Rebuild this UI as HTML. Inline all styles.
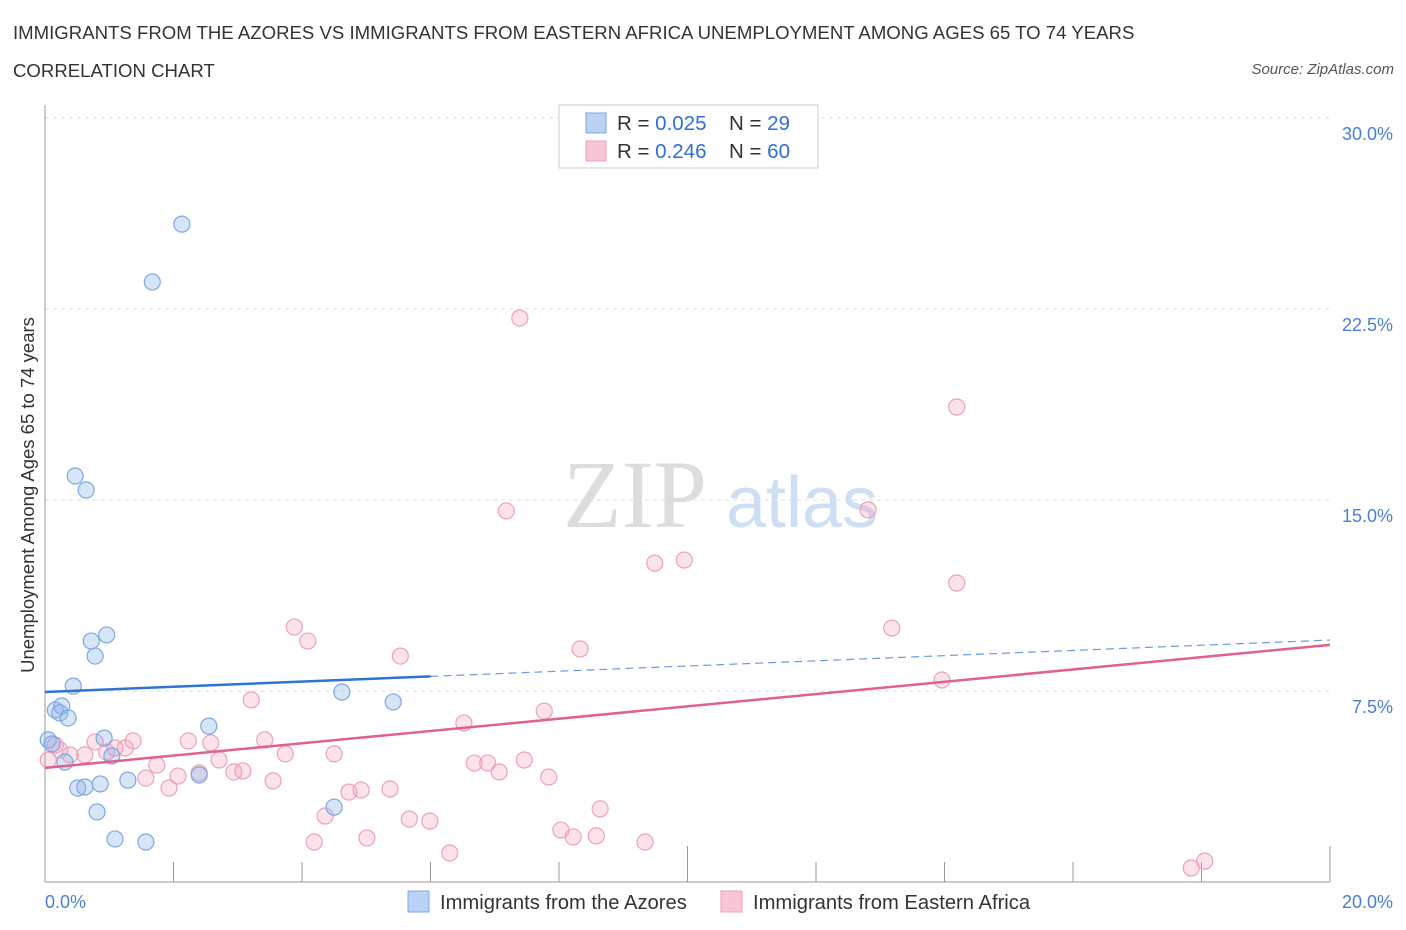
<!DOCTYPE html>
<html><head><meta charset="utf-8">
<style>
body{margin:0;background:#fff;font-family:"Liberation Sans",sans-serif;}
#wrap{position:relative;width:1406px;height:930px;overflow:hidden;}
.t{position:absolute;white-space:nowrap;}
</style></head>
<body>
<div id="wrap">
<div class="t" style="left:13px;top:22px;font-size:18.6px;color:#333;">IMMIGRANTS FROM THE AZORES VS IMMIGRANTS FROM EASTERN AFRICA UNEMPLOYMENT AMONG AGES 65 TO 74 YEARS</div>
<div class="t" style="left:13px;top:60px;font-size:18.6px;color:#333;">CORRELATION CHART</div>
<div class="t" style="right:12px;top:61px;font-size:15px;color:#555;font-style:italic;">Source: ZipAtlas.com</div>
<svg id="chart" width="1406" height="930" style="position:absolute;left:0;top:0"></svg>
</div>
<script>
const blueX=[2.13,1.67,0.47,0.64,0.72,0.96,0.78,0.44,0.16,0.26,0.23,0.36,0.05,0.11,0.92,1.04,0.31,2.55,4.62,5.42,0.51,0.62,0.86,1.29,2.40,0.81,4.50,1.09,1.57];
const blueY=[25.83,23.56,15.94,15.39,9.46,9.70,8.87,7.69,6.75,6.91,6.64,6.44,5.58,5.42,5.65,4.95,4.71,6.12,7.46,7.07,3.69,3.73,3.85,4.00,4.20,2.75,2.94,1.69,1.57];
const pinkX=[7.39,14.19,7.18,12.81,9.49,9.95,14.19,3.88,4.09,13.18,5.53,8.33,13.96,3.21,7.77,6.52,0.16,0.23,0.05,0.39,0.62,0.78,0.96,1.09,1.25,1.37,1.74,1.57,1.93,2.07,2.23,2.40,2.58,2.71,2.94,3.08,3.42,3.55,3.74,4.50,4.36,4.19,4.73,4.92,5.01,5.37,5.67,5.99,6.30,6.68,6.89,7.07,7.46,7.84,8.03,8.22,8.58,8.64,9.34,17.84,18.05];
const pinkY=[22.14,18.65,14.57,14.61,12.52,12.64,11.74,10.01,9.46,9.97,8.87,9.15,7.93,7.15,6.71,6.24,5.38,5.18,4.79,4.99,4.99,5.50,5.10,5.26,5.26,5.54,4.59,4.08,3.69,4.16,5.54,4.28,5.46,4.79,4.32,4.36,5.58,3.97,5.03,5.03,2.59,1.57,3.53,3.61,1.73,3.65,2.47,2.39,1.14,4.67,4.67,4.32,4.79,4.12,2.04,1.77,1.81,2.87,1.57,0.55,0.82];
const blueTrend=[7.46,9.50];
const pinkTrend=[4.48,9.31];
const blueSolidEnd=6.0;
const yTicks=[7.5,15,22.5,30];
const yTickLabels=["7.5%","15.0%","22.5%","30.0%"];
const xTicks=[0,2,4,6,8,10,12,14,16,18,20];

const X=v=>45+v*64.25, Y=v=>882-v*25.47;
const svg=document.getElementById('chart');const NS='http://www.w3.org/2000/svg';
function mk(tag,a){const e=document.createElementNS(NS,tag);for(const k in a)e.setAttribute(k,a[k]);svg.appendChild(e);return e;}
let e;
yTicks.forEach((t,i)=>{
 e=mk('line',{x1:45,x2:1330,y1:Y(t),y2:Y(t),stroke:'#ddd','stroke-dasharray':'4,4'});
 
 
 e=mk('text',{x:1393,y:Y(t)+22,'text-anchor':'end','font-size':18,fill:'#4a7fd4','font-family':'Liberation Sans'});
 e.textContent=yTickLabels[i];
 
 
});
e=mk('line',{x1:45,x2:45,y1:105,y2:882,stroke:'#999'});


e=mk('line',{x1:45,x2:1330,y1:882,y2:882,stroke:'#999'});


xTicks.forEach(t=>{
 e=mk('line',{x1:X(t),x2:X(t),y1:882,y2:(t%10==0&&t>0)?846:862,stroke:'#999'});
 
 
});
[[0,'0.0%','start',45],[20,'20.0%','end',1393]].forEach(d=>{
 e=mk('text',{x:d[3],y:908,'text-anchor':d[2],'font-size':18,fill:'#4a7fd4','font-family':'Liberation Sans'});
 e.textContent=d[1];
 
 
});
e=mk('text',{x:0,y:0,transform:'translate(34,495) rotate(-90)','text-anchor':'middle','font-size':18.5,fill:'#333','font-family':'Liberation Sans'});
e.textContent='Unemployment Among Ages 65 to 74 years';


e=mk('text',{x:635,y:527,'text-anchor':'middle','font-size':96,fill:'#ddd','font-family':'Liberation Serif'});
e.textContent='ZIP';


e=mk('text',{x:802,y:527,'text-anchor':'middle','font-size':72,fill:'#cfdff3','font-family':'Liberation Sans'});
e.textContent='atlas';


pinkX.forEach((v,i)=>{
 e=mk('circle',{cx:X(v),cy:Y(pinkY[i]),r:8,fill:'rgba(244,160,188,0.3)',stroke:'#eba1ba','stroke-width':1.2});
 
 
});
blueX.forEach((v,i)=>{
 e=mk('circle',{cx:X(v),cy:Y(blueY[i]),r:8,fill:'rgba(140,180,235,0.35)',stroke:'#7ea8e0','stroke-width':1.2});
 
 
});
const bAt=x=>blueTrend[0]+(blueTrend[1]-blueTrend[0])*x/20;
e=mk('line',{x1:X(0),y1:Y(blueTrend[0]),x2:X(blueSolidEnd),y2:Y(bAt(blueSolidEnd)),stroke:'#2f74d0','stroke-width':2.5});


e=mk('line',{x1:X(blueSolidEnd),y1:Y(bAt(blueSolidEnd)),x2:X(20),y2:Y(blueTrend[1]),stroke:'#6a9be0','stroke-width':1.2,'stroke-dasharray':'8,5'});


e=mk('line',{x1:X(0),y1:Y(pinkTrend[0]),x2:X(20),y2:Y(pinkTrend[1]),stroke:'#e0608e','stroke-width':2.5});


e=mk('rect',{x:559,y:105,width:259,height:63,fill:'#fff',stroke:'#ccc'});


[[123,'0.025','29','rgba(140,180,235,0.6)','#7ea8e0'],[151,'0.246','60','rgba(244,160,188,0.6)','#eba1ba']].forEach(r=>{
 e=mk('rect',{x:586,y:r[0]-10,width:20,height:20,fill:r[3],stroke:r[4]});
 
 
 e=mk('text',{x:617,y:r[0]+7,'font-size':20.5,fill:'#333','font-family':'Liberation Sans'});
 e.innerHTML='R = <tspan fill="#2f6fcf">'+r[1]+'</tspan><tspan x="729">N = </tspan><tspan fill="#2f6fcf">'+r[2]+'</tspan>';
 
 
});
[[408,440,'Immigrants from the Azores','rgba(140,180,235,0.6)','#7ea8e0'],[721,753,'Immigrants from Eastern Africa','rgba(244,160,188,0.6)','#eba1ba']].forEach(r=>{
 e=mk('rect',{x:r[0],y:891,width:21,height:21,fill:r[3],stroke:r[4]});
 
 
 e=mk('text',{x:r[1],y:909,'font-size':20.2,fill:'#333','font-family':'Liberation Sans'});
 e.textContent=r[2];
 
 
});
</script>
</body></html>
